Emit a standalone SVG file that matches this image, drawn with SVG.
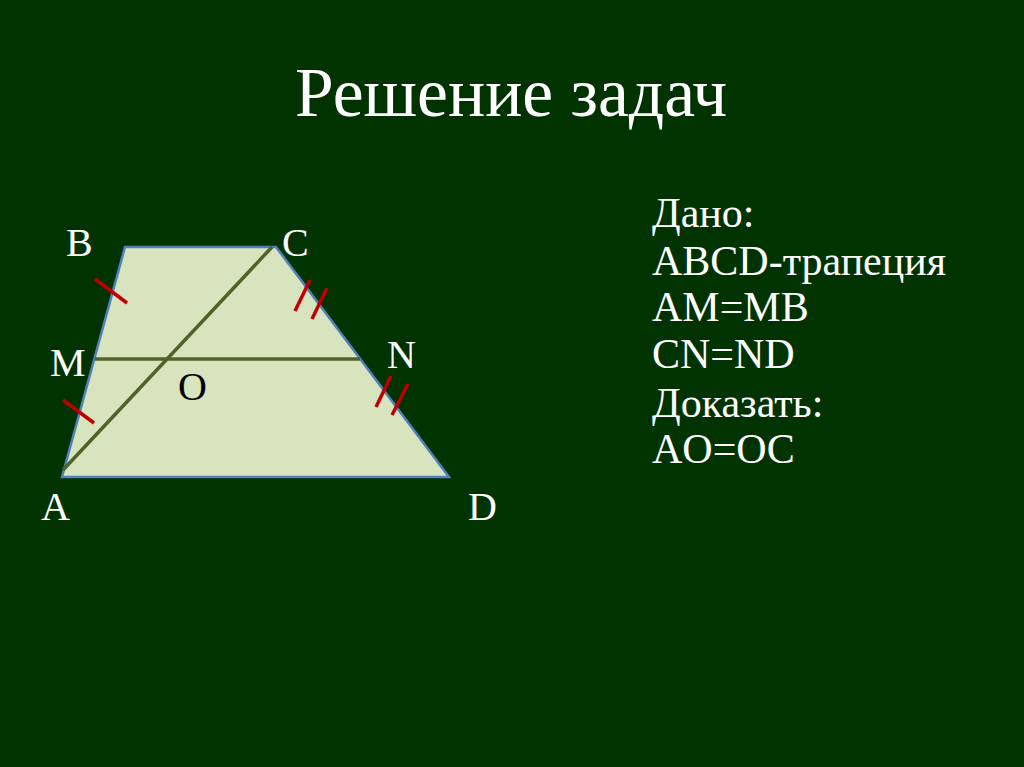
<svg xmlns="http://www.w3.org/2000/svg" width="1024" height="767" viewBox="0 0 1024 767">
<style>
text{font-family:"Liberation Serif","Times New Roman",serif;fill:#ffffff}
.lbl{font-size:40px}
.giv{font-size:42px}
.seg{stroke:#4f6228;stroke-width:3.5;fill:none}
.tick{stroke:#c00000;stroke-width:3.5}
</style>
<rect width="1024" height="767" fill="#013301"/>
<text x="295" y="116" font-size="69.5">Решение задач</text>
<g id="trapezoid">
<polygon points="125,247 276,247 449,477 62,477" fill="#d7e4bd" stroke="#4f81bd" stroke-width="2.5"/>
</g>
<g id="connectors">
<line class="seg" x1="63" y1="470" x2="272" y2="247"/>
<line class="seg" x1="95" y1="359" x2="360" y2="359"/>
</g>
<g id="ticks">
<line class="tick" x1="95" y1="279" x2="127" y2="303"/>
<line class="tick" x1="63" y1="400" x2="94" y2="423"/>
<line class="tick" x1="310" y1="280" x2="295" y2="311"/>
<line class="tick" x1="327" y1="288" x2="312" y2="319"/>
<line class="tick" x1="391" y1="376" x2="376" y2="407"/>
<line class="tick" x1="408" y1="384" x2="392" y2="415"/>
</g>
<g id="labels">
<text class="lbl" x="66" y="256">B</text>
<text class="lbl" x="282" y="256">C</text>
<text class="lbl" x="50" y="376">M</text>
<text class="lbl" x="387" y="368">N</text>
<text class="lbl" x="178" y="400" style="fill:#000000">O</text>
<text class="lbl" x="41" y="520">A</text>
<text class="lbl" x="468" y="520">D</text>
</g>
<g id="given">
<text class="giv" x="652" y="227">Дано:</text>
<text class="giv" x="652" y="275">ABCD-трапеция</text>
<text class="giv" x="652" y="321">AM=MB</text>
<text class="giv" x="652" y="368">CN=ND</text>
<text class="giv" x="652" y="417">Доказать:</text>
<text class="giv" x="652" y="463">AO=OC</text>
</g>
</svg>
